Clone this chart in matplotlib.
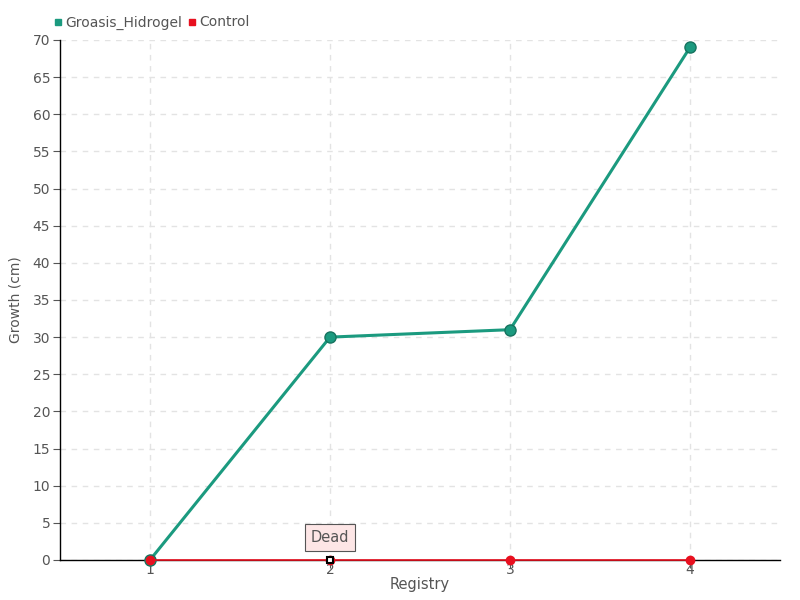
import matplotlib
matplotlib.use("Agg")
import matplotlib.pyplot as plt
from matplotlib.lines import Line2D

# --- Дані ---
registry = [1, 2, 3, 4]
groasis = [0, 30, 31, 69]
control = [0, 0, 0, 0]
y_ticks = list(range(0, 75, 5))
dead_point = 2  # реєстр, де рослина загинула

GREEN = "#1b9a7f"
GREEN_DARK = "#16735f"
RED = "#e8101f"
TXT = "#555555"

plt.rcParams['font.family'] = ['DejaVu Sans Condensed', 'DejaVu Sans']

fig = plt.figure(figsize=(8, 6), dpi=100)
ax = fig.add_axes([0.075, 0.0667, 0.9, 0.8667])

ax.set_xlim(0.5, 4.5)
ax.set_ylim(0, 70)
ax.set_xticks(registry)
ax.set_yticks(y_ticks)
ax.grid(True, color="#e3e3e3", linestyle=(0, (4, 4)), linewidth=1)
ax.set_axisbelow(True)

for s in ["top", "right"]:
    ax.spines[s].set_visible(False)
for s in ["left", "bottom"]:
    ax.spines[s].set_color("black")
    ax.spines[s].set_linewidth(1)

ax.tick_params(colors=TXT, labelsize=10, length=4)
ax.tick_params(axis='x', direction='out', pad=-4, length=6)
ax.tick_params(axis='y', direction='out', length=5, pad=2)

# Лінії
ax.plot(registry, groasis, color=GREEN, linewidth=2.2, marker='o', markersize=8,
        markerfacecolor=GREEN, markeredgecolor=GREEN_DARK, zorder=3, clip_on=False)
ax.plot(registry, control, color=RED, linewidth=1.2, marker='o', markersize=6,
        markerfacecolor=RED, markeredgecolor=RED, zorder=4, clip_on=False)

# Маркер "Dead"
i = registry.index(dead_point)
ax.plot([dead_point], [control[i]], marker='s', markersize=5, markerfacecolor='white',
        markeredgecolor='black', markeredgewidth=1.5, zorder=5, clip_on=False)
ax.annotate("Dead", xy=(dead_point, control[i]), xytext=(0, 16), textcoords='offset points',
            ha='center', va='center', fontsize=10.5, color=TXT,
            bbox=dict(boxstyle='square,pad=0.4', fc='#fde6e6', ec='#555555', lw=0.8),
            zorder=6)

ax.set_xlabel("Registry", color=TXT, fontsize=10.5, labelpad=0)
ax.set_ylabel("Growth (cm)", color=TXT, fontsize=10)
ax.yaxis.set_label_coords(-0.052, 0.5)

# Легенда
handles = [Line2D([], [], marker='s', color=GREEN, linestyle='none', markersize=4),
           Line2D([], [], marker='s', color=RED, linestyle='none', markersize=4)]
leg = fig.legend(handles, ["Groasis_Hidrogel", "Control"], loc='upper left',
                 bbox_to_anchor=(0.052, 0.995), ncol=2, frameon=False, fontsize=10,
                 handlelength=0.6, handletextpad=0.2, columnspacing=0.4)
for t in leg.get_texts():
    t.set_color(TXT)

fig.savefig("out.png", dpi=100)
